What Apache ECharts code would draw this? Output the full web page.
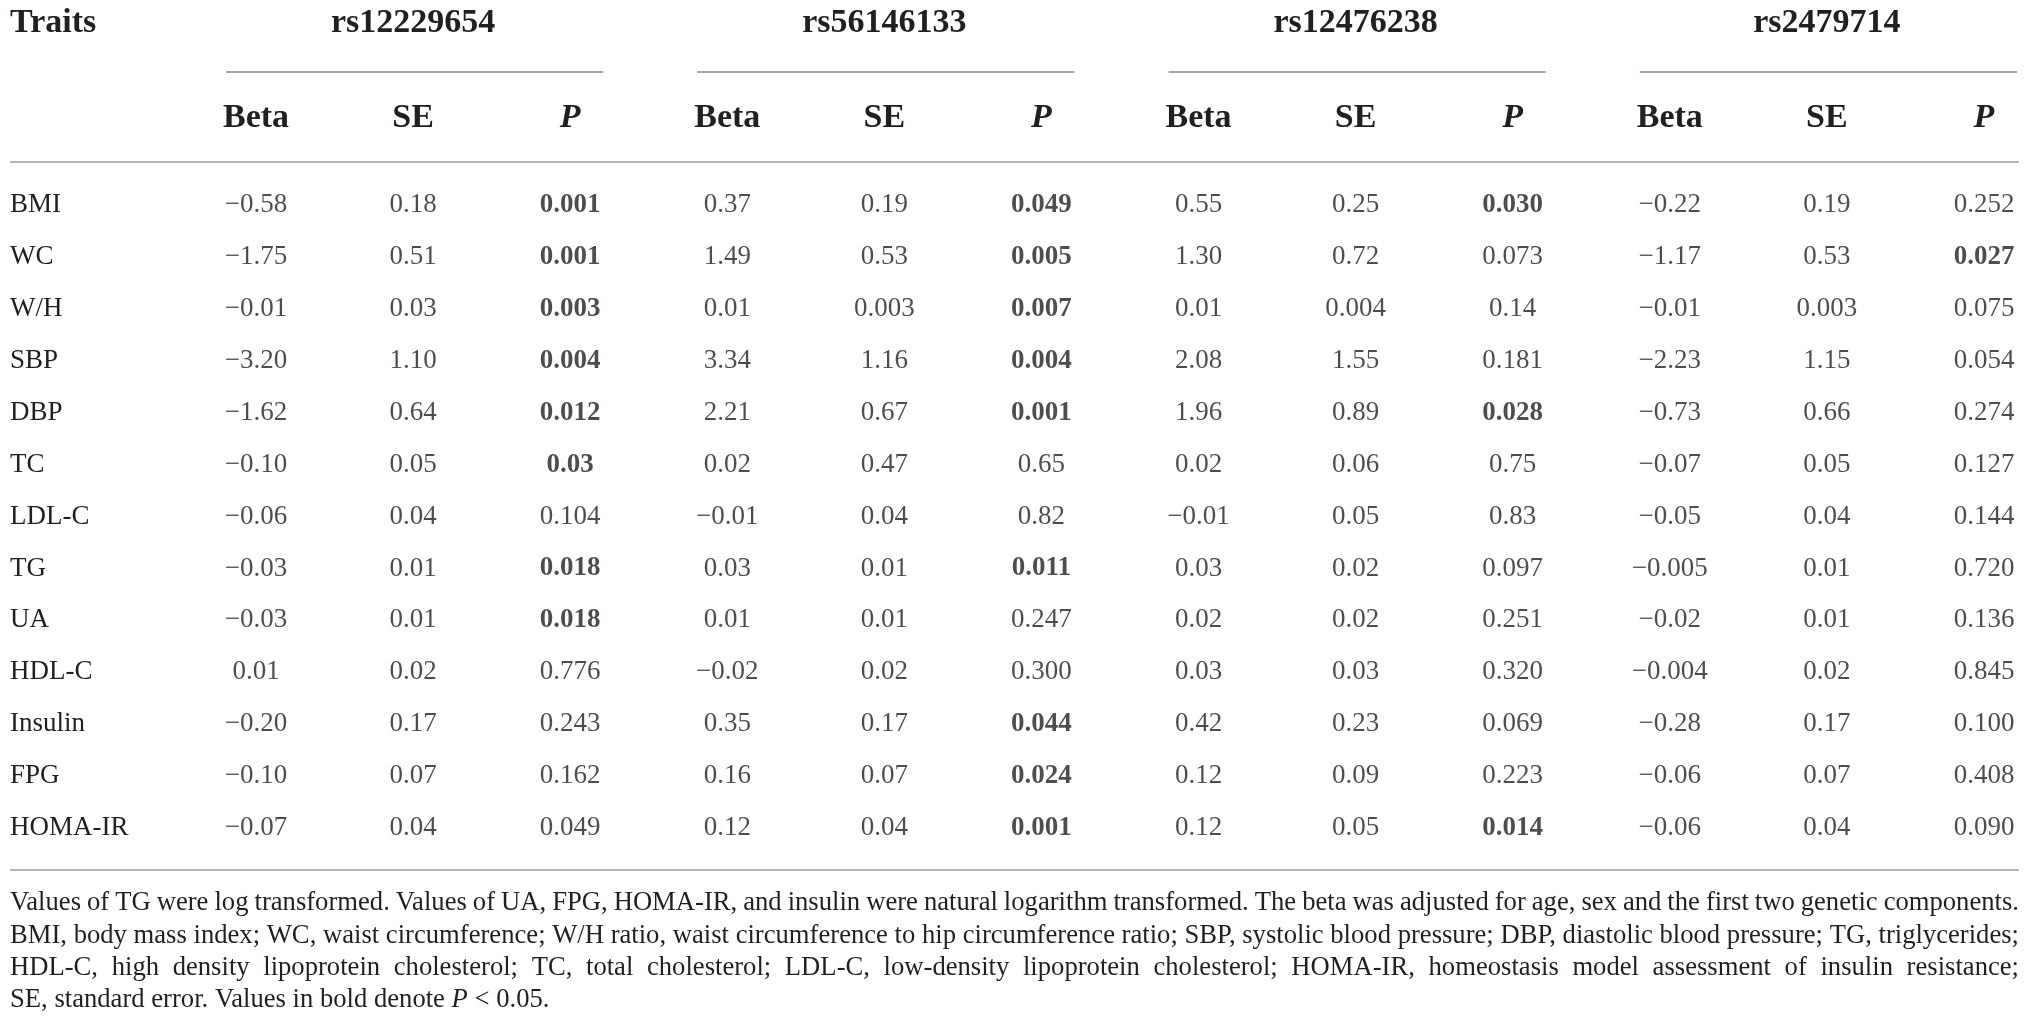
<!DOCTYPE html>
<html>
<head>
<meta charset="utf-8">
<script src="https://cdn.jsdelivr.net/npm/echarts@6/dist/echarts.min.js"></script>
<style>
html,body{margin:0;padding:0;background:#fff;}
#main{width:2029px;height:1036px;}
</style>
</head>
<body>
<div id="main"></div>
<script>
// 表格数据
var traits = ['BMI', 'WC', 'W/H', 'SBP', 'DBP', 'TC', 'LDL-C', 'TG', 'UA', 'HDL-C', 'Insulin', 'FPG', 'HOMA-IR'];
var snps = ['rs12229654', 'rs56146133', 'rs12476238', 'rs2479714'];
var stats = ['Beta', 'SE', 'P'];

var beta1 = ['−0.58', '−1.75', '−0.01', '−3.20', '−1.62', '−0.10', '−0.06', '−0.03', '−0.03', '0.01', '−0.20', '−0.10', '−0.07'];
var se1   = ['0.18', '0.51', '0.03', '1.10', '0.64', '0.05', '0.04', '0.01', '0.01', '0.02', '0.17', '0.07', '0.04'];
var p1    = ['0.001', '0.001', '0.003', '0.004', '0.012', '0.03', '0.104', '0.018', '0.018', '0.776', '0.243', '0.162', '0.049'];
var bold1 = [1, 1, 1, 1, 1, 1, 0, 1, 1, 0, 0, 0, 0];

var beta2 = ['0.37', '1.49', '0.01', '3.34', '2.21', '0.02', '−0.01', '0.03', '0.01', '−0.02', '0.35', '0.16', '0.12'];
var se2   = ['0.19', '0.53', '0.003', '1.16', '0.67', '0.47', '0.04', '0.01', '0.01', '0.02', '0.17', '0.07', '0.04'];
var p2    = ['0.049', '0.005', '0.007', '0.004', '0.001', '0.65', '0.82', '0.011', '0.247', '0.300', '0.044', '0.024', '0.001'];
var bold2 = [1, 1, 1, 1, 1, 0, 0, 1, 0, 0, 1, 1, 1];

var beta3 = ['0.55', '1.30', '0.01', '2.08', '1.96', '0.02', '−0.01', '0.03', '0.02', '0.03', '0.42', '0.12', '0.12'];
var se3   = ['0.25', '0.72', '0.004', '1.55', '0.89', '0.06', '0.05', '0.02', '0.02', '0.03', '0.23', '0.09', '0.05'];
var p3    = ['0.030', '0.073', '0.14', '0.181', '0.028', '0.75', '0.83', '0.097', '0.251', '0.320', '0.069', '0.223', '0.014'];
var bold3 = [1, 0, 0, 0, 1, 0, 0, 0, 0, 0, 0, 0, 1];

var beta4 = ['−0.22', '−1.17', '−0.01', '−2.23', '−0.73', '−0.07', '−0.05', '−0.005', '−0.02', '−0.004', '−0.28', '−0.06', '−0.06'];
var se4   = ['0.19', '0.53', '0.003', '1.15', '0.66', '0.05', '0.04', '0.01', '0.01', '0.02', '0.17', '0.07', '0.04'];
var p4    = ['0.252', '0.027', '0.075', '0.054', '0.274', '0.127', '0.144', '0.720', '0.136', '0.845', '0.100', '0.408', '0.090'];
var bold4 = [0, 1, 0, 0, 0, 0, 0, 0, 0, 0, 0, 0, 0];

var notes = [
    'Values of TG were log transformed. Values of UA, FPG, HOMA-IR, and insulin were natural logarithm transformed. The beta was adjusted for age, sex and the first two genetic components.',
    'BMI, body mass index; WC, waist circumference; W/H ratio, waist circumference to hip circumference ratio; SBP, systolic blood pressure; DBP, diastolic blood pressure; TG, triglycerides;',
    'HDL-C, high density lipoprotein cholesterol; TC, total cholesterol; LDL-C, low-density lipoprotein cholesterol; HOMA-IR, homeostasis model assessment of insulin resistance;'
];

var FONT = '"Liberation Serif", "Times New Roman", serif';
var INK = '#231f20';

var table = [
    [beta1, se1, p1, bold1],
    [beta2, se2, p2, bold2],
    [beta3, se3, p3, bold3],
    [beta4, se4, p4, bold4]
];

var cols = [];
snps.forEach(function (s) {
    stats.forEach(function (st) { cols.push(s + '|' + st); });
});

var cells = [];
table.forEach(function (t, si) {
    traits.forEach(function (tr, ri) {
        for (var k = 0; k < 3; k++) {
            var isBold = k === 2 && t[3][ri] === 1;
            cells.push({
                name: t[k][ri],
                value: [si * 3 + k, ri],
                label: {fontWeight: isBold ? 'bold' : 'normal'}
            });
        }
    });
});

var myChart = echarts.init(document.getElementById('main'), null, {renderer: 'canvas'});

var option = {
    backgroundColor: '#fff',
    animation: false,
    grid: {left: 256, right: 45, top: 205, bottom: 208, containLabel: false},
    xAxis: [{
        type: 'category',
        data: cols,
        position: 'top',
        boundaryGap: false,
        axisLine: {show: false},
        axisTick: {show: false},
        splitLine: {show: false},
        axisLabel: {
            interval: 0,
            margin: 87,
            verticalAlign: 'middle',
            formatter: function (v) {
                var st = v.split('|')[1];
                return st === 'P' ? '{i|P}' : '{b|' + st + '}';
            },
            rich: {
                b: {fontFamily: FONT, fontSize: 34, fontWeight: 'bold', color: INK},
                i: {fontFamily: FONT, fontSize: 34, fontWeight: 'bold', fontStyle: 'italic', color: INK}
            }
        }
    }, {
        type: 'category',
        data: cols,
        position: 'top',
        boundaryGap: false,
        axisLine: {show: false},
        axisTick: {show: false},
        splitLine: {show: false},
        axisLabel: {
            interval: 0,
            margin: 182,
            verticalAlign: 'middle',
            fontFamily: FONT,
            fontSize: 34,
            fontWeight: 'bold',
            color: INK,
            formatter: function (v) {
                var p = v.split('|');
                return p[1] === 'SE' ? p[0] : '';
            }
        }
    }],
    yAxis: {
        type: 'category',
        data: traits,
        inverse: true,
        boundaryGap: false,
        axisLine: {show: false},
        axisTick: {show: false},
        splitLine: {show: false},
        axisLabel: {
            interval: 0,
            margin: 246,
            align: 'left',
            fontFamily: FONT,
            fontSize: 27,
            color: INK
        }
    },
    series: [{
        type: 'scatter',
        xAxisIndex: 0,
        symbolSize: 1,
        itemStyle: {color: 'rgba(0,0,0,0)'},
        label: {
            show: true,
            position: 'inside',
            formatter: '{b}',
            fontFamily: FONT,
            fontSize: 27,
            color: INK
        },
        data: cells
    }]
};
myChart.setOption(option);

// 线条、表头和脚注
var graphics = [];
var ruleColor = '#b5b5b5';
graphics.push({type: 'line', shape: {x1: 10, y1: 162, x2: 2019, y2: 162}, style: {stroke: ruleColor, lineWidth: 2}});
graphics.push({type: 'line', shape: {x1: 10, y1: 870, x2: 2019, y2: 870}, style: {stroke: ruleColor, lineWidth: 2}});
graphics.push({
    type: 'text', x: 10, y: 23,
    style: {text: 'Traits', fontFamily: FONT, fontSize: 34, fontWeight: 'bold', fill: INK, align: 'left', verticalAlign: 'middle'}
});

snps.forEach(function (s, si) {
    var xa = myChart.convertToPixel({xAxisIndex: 0}, si * 3);
    var xb = myChart.convertToPixel({xAxisIndex: 0}, si * 3 + 2);
    graphics.push({
        type: 'line',
        shape: {x1: xa - 30, y1: 72, x2: Math.min(xb + 33, 2019), y2: 72},
        style: {stroke: '#8a8a8a', lineWidth: 1.5}
    });
});

// 两端对齐的脚注
var ctx = document.createElement('canvas').getContext('2d');
var noteSize = 27;
ctx.font = noteSize + 'px ' + FONT;
var noteLeft = 10, noteRight = 2019, noteY = [903, 936, 968, 1000];
var minGap = 6;
var noteScale = 1;
// 统一水平压缩比例，使最长一行刚好放下
notes.forEach(function (line) {
    var words = line.split(' ');
    var total = words.reduce(function (a, w) { return a + ctx.measureText(w).width; }, 0);
    var s = (noteRight - noteLeft - minGap * (words.length - 1)) / total;
    if (s < noteScale) noteScale = s;
});
notes.forEach(function (line, li) {
    var words = line.split(' ');
    var widths = words.map(function (w) { return ctx.measureText(w).width * noteScale; });
    var total = widths.reduce(function (a, b) { return a + b; }, 0);
    var gap = (noteRight - noteLeft - total) / (words.length - 1);
    var x = noteLeft;
    words.forEach(function (w, wi) {
        graphics.push({
            type: 'text',
            x: x,
            y: noteY[li],
            scaleX: noteScale,
            style: {text: w, fontFamily: FONT, fontSize: noteSize, fill: INK, align: 'left', verticalAlign: 'middle'}
        });
        x += widths[wi] + gap;
    });
});
graphics.push({
    type: 'text',
    x: noteLeft,
    y: noteY[3],
    scaleX: noteScale,
    style: {
        text: '{n|SE, standard error. Values in bold denote }{i|P}{n| < 0.05.}',
        rich: {
            n: {fontFamily: FONT, fontSize: noteSize, fill: INK, color: INK},
            i: {fontFamily: FONT, fontSize: noteSize, fontStyle: 'italic', fill: INK, color: INK}
        },
        align: 'left',
        verticalAlign: 'middle'
    }
});

myChart.setOption({graphic: {elements: graphics}});
</script>
</body>
</html>
